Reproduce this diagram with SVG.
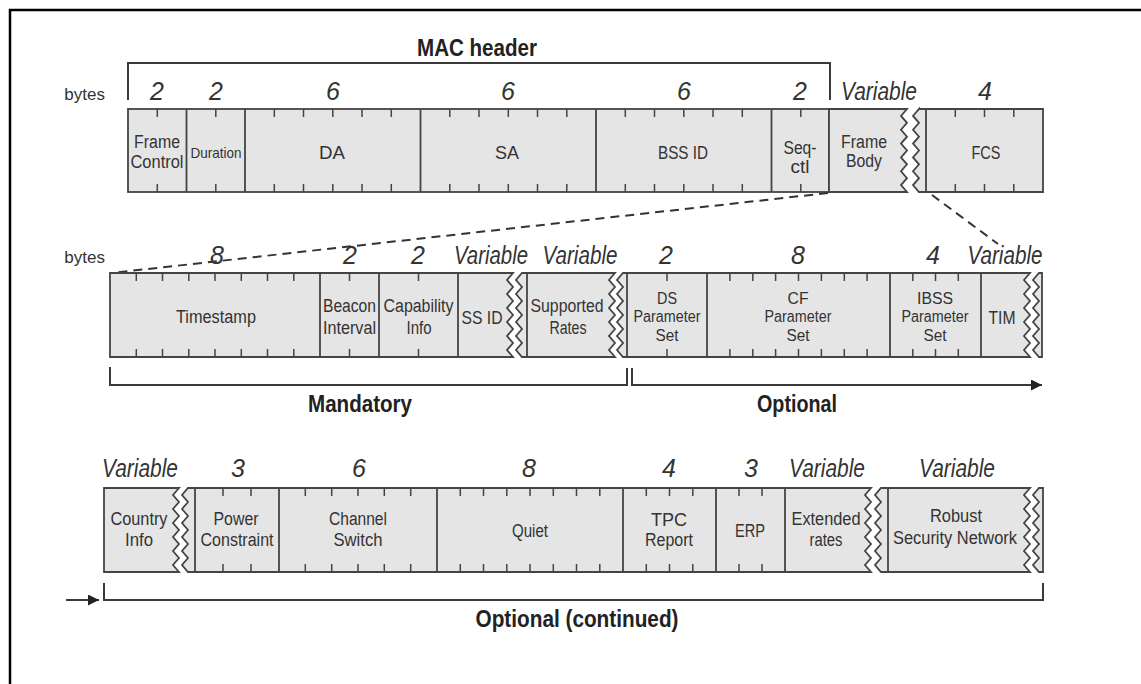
<svg xmlns="http://www.w3.org/2000/svg" width="1141" height="684" viewBox="0 0 1141 684">
<style>
.box{fill:#e5e5e5;stroke:#444;stroke-width:1.8;stroke-linejoin:miter}
.div{stroke:#444;stroke-width:1.8;fill:none}
.tick{stroke:#444;stroke-width:1.5;fill:none}
.br{stroke:#3a3a3a;stroke-width:2;fill:none}
.dash{stroke:#333;stroke-width:2;stroke-dasharray:9 6;fill:none}
text{font-family:"Liberation Sans",Arial,sans-serif;fill:#333;text-anchor:middle}
.lbl{font-size:18px}
.sm{font-size:16px}
.num{font-size:25px;font-style:italic}
.hdr{font-size:24px;font-weight:bold;fill:#222}
.by{font-size:17px;text-anchor:end}
</style>
<defs>
<marker id="ah" viewBox="0 0 10 10" refX="10" refY="5" markerWidth="15" markerHeight="11" markerUnits="userSpaceOnUse" orient="auto">
<path d="M0,0 L10,5 L0,10 Z" fill="#222"/>
</marker>
</defs>
<rect width="1141" height="684" fill="#fff"/>
<path d="M10,684 V10 H1141" stroke="#000" stroke-width="2.5" fill="none"/>

<g id="mac-header">
<path class="br" d="M128,100 V63 H830 V100"/>
<text class="hdr" x="477" y="56" font-size="26" textLength="120" lengthAdjust="spacingAndGlyphs">MAC header</text>
<text class="by" x="105" y="100">bytes</text>
</g>

<g id="row1">
<rect class="box" x="128" y="109" width="701" height="83"/>
<path class="box" d="M829,109 H907 l-6,6.917 6,6.917 -6,6.917 6,6.917 -6,6.917 6,6.917 -6,6.917 6,6.917 -6,6.917 6,6.917 -6,6.917 6,6.917 H829 Z"/>
<path class="box" d="M919,109 H1043 V192 H919 l-6,-6.917 6,-6.917 -6,-6.917 6,-6.917 -6,-6.917 6,-6.917 -6,-6.917 6,-6.917 -6,-6.917 6,-6.917 -6,-6.917 6,-6.917 Z"/>
<path class="div" d="M186.5,109 V192 M245,109 V192 M420.5,109 V192 M596,109 V192 M771.5,109 V192 M926,109 V192"/>
<path class="tick" d="M157.3,109v8M157.3,192v-8M215.8,109v8M215.8,192v-8M274.3,109v8M274.3,192v-8M303.5,109v8M303.5,192v-8M332.8,109v8M332.8,192v-8M362,109v8M362,192v-8M391.3,109v8M391.3,192v-8M449.8,109v8M449.8,192v-8M479,109v8M479,192v-8M508.3,109v8M508.3,192v-8M537.5,109v8M537.5,192v-8M566.8,109v8M566.8,192v-8M625.3,109v8M625.3,192v-8M654.5,109v8M654.5,192v-8M683.8,109v8M683.8,192v-8M713,109v8M713,192v-8M742.3,109v8M742.3,192v-8M800.8,109v8M800.8,192v-8M955.3,109v8M955.3,192v-8M984.5,109v8M984.5,192v-8M1013.8,109v8M1013.8,192v-8"/>
<g id="r1-frame-control"><text class="num" x="157" y="100">2</text><text class="lbl" x="157" y="148" textLength="46" lengthAdjust="spacingAndGlyphs">Frame</text><text class="lbl" x="157" y="168" textLength="53" lengthAdjust="spacingAndGlyphs">Control</text></g>
<g id="r1-duration"><text class="num" x="216" y="100">2</text><text x="216" y="158" font-size="15" textLength="51" lengthAdjust="spacingAndGlyphs">Duration</text></g>
<g id="r1-da"><text class="num" x="333" y="100">6</text><text class="lbl" x="332" y="159" textLength="26" lengthAdjust="spacingAndGlyphs">DA</text></g>
<g id="r1-sa"><text class="num" x="508" y="100">6</text><text class="lbl" x="507" y="159" textLength="24" lengthAdjust="spacingAndGlyphs">SA</text></g>
<g id="r1-bssid"><text class="num" x="684" y="100">6</text><text class="lbl" x="683" y="159" textLength="50" lengthAdjust="spacingAndGlyphs">BSS ID</text></g>
<g id="r1-seqctl"><text class="num" x="800" y="100">2</text><text class="lbl" x="800" y="154" textLength="33" lengthAdjust="spacingAndGlyphs">Seq-</text><text class="lbl" x="800" y="173" textLength="19" lengthAdjust="spacingAndGlyphs">ctl</text></g>
<g id="r1-framebody"><text class="num" x="879" y="100" textLength="76" lengthAdjust="spacingAndGlyphs">Variable</text><text class="lbl" x="864" y="148" textLength="46" lengthAdjust="spacingAndGlyphs">Frame</text><text class="lbl" x="864" y="167" textLength="36" lengthAdjust="spacingAndGlyphs">Body</text></g>
<g id="r1-fcs"><text class="num" x="985" y="100">4</text><text class="lbl" x="986" y="159" textLength="29" lengthAdjust="spacingAndGlyphs">FCS</text></g>
</g>

<g id="connectors">
<path class="dash" d="M828,193 L112,273"/>
<path class="dash" d="M932,195 L998,244"/>
<path class="br" d="M110,367 V385 H627 V368"/>
<path class="br" d="M632,368 V385 H1042" marker-end="url(#ah)"/>
<path class="br" d="M104,583 V600 H1043 V583"/>
<path class="br" d="M66,600 H99" marker-end="url(#ah)"/>
</g>

<g id="row2">
<text class="by" x="105" y="263">bytes</text>
<path class="box" d="M110,273 H513 l-6,7 6,7 -6,7 6,7 -6,7 6,7 -6,7 6,7 -6,7 6,7 -6,7 6,7 H110 Z"/>
<path class="box" d="M522,273 H615 l-6,7 6,7 -6,7 6,7 -6,7 6,7 -6,7 6,7 -6,7 6,7 -6,7 6,7 H522 l-6,-7 6,-7 -6,-7 6,-7 -6,-7 6,-7 -6,-7 6,-7 -6,-7 6,-7 -6,-7 6,-7 Z"/>
<path class="box" d="M623,273 H1030 l-6,7 6,7 -6,7 6,7 -6,7 6,7 -6,7 6,7 -6,7 6,7 -6,7 6,7 H623 l-6,-7 6,-7 -6,-7 6,-7 -6,-7 6,-7 -6,-7 6,-7 -6,-7 6,-7 -6,-7 6,-7 Z"/>
<path class="box" d="M1039,273 H1042 V357 H1039 l-6,-7 6,-7 -6,-7 6,-7 -6,-7 6,-7 -6,-7 6,-7 -6,-7 6,-7 -6,-7 6,-7 Z"/>
<path class="div" d="M320,273 V357 M379,273 V357 M458,273 V357 M527,273 V357 M627,273 V357 M707,273 V357 M890,273 V357 M981,273 V357"/>
<path class="tick" d="M136.3,273v8M136.3,357v-8M162.5,273v8M162.5,357v-8M188.8,273v8M188.8,357v-8M215,273v8M215,357v-8M241.3,273v8M241.3,357v-8M267.5,273v8M267.5,357v-8M293.8,273v8M293.8,357v-8M349.5,273v8M349.5,357v-8M418.5,273v8M418.5,357v-8M667,273v8M667,357v-8M729.9,273v8M729.9,357v-8M752.8,273v8M752.8,357v-8M775.6,273v8M775.6,357v-8M798.5,273v8M798.5,357v-8M821.4,273v8M821.4,357v-8M844.3,273v8M844.3,357v-8M867.1,273v8M867.1,357v-8M912.8,273v8M912.8,357v-8M935.5,273v8M935.5,357v-8M958.3,273v8M958.3,357v-8"/>
<g id="r2-timestamp"><text class="num" x="217" y="264">8</text><text class="lbl" x="216" y="323" textLength="80" lengthAdjust="spacingAndGlyphs">Timestamp</text></g>
<g id="r2-beacon"><text class="num" x="350" y="264">2</text><text class="lbl" x="349.5" y="312" textLength="53" lengthAdjust="spacingAndGlyphs">Beacon</text><text class="lbl" x="349.5" y="334" textLength="53" lengthAdjust="spacingAndGlyphs">Interval</text></g>
<g id="r2-capability"><text class="num" x="418" y="264">2</text><text class="lbl" x="418.5" y="312" textLength="70" lengthAdjust="spacingAndGlyphs">Capability</text><text class="lbl" x="419" y="334" textLength="25" lengthAdjust="spacingAndGlyphs">Info</text></g>
<g id="r2-ssid"><text class="num" x="491" y="264" textLength="74" lengthAdjust="spacingAndGlyphs">Variable</text><text class="lbl" x="482" y="324" textLength="41" lengthAdjust="spacingAndGlyphs">SS ID</text></g>
<g id="r2-rates"><text class="num" x="580" y="264" textLength="75" lengthAdjust="spacingAndGlyphs">Variable</text><text class="lbl" x="567" y="312" textLength="73" lengthAdjust="spacingAndGlyphs">Supported</text><text class="lbl" x="568" y="334" textLength="37" lengthAdjust="spacingAndGlyphs">Rates</text></g>
<g id="r2-ds"><text class="num" x="666" y="264">2</text><text class="sm" x="667" y="303.5" textLength="20" lengthAdjust="spacingAndGlyphs">DS</text><text class="sm" x="667" y="322" textLength="67" lengthAdjust="spacingAndGlyphs">Parameter</text><text class="sm" x="667" y="340.5" textLength="23" lengthAdjust="spacingAndGlyphs">Set</text></g>
<g id="r2-cf"><text class="num" x="798" y="264">8</text><text class="sm" x="798" y="303.5" textLength="21" lengthAdjust="spacingAndGlyphs">CF</text><text class="sm" x="798" y="322" textLength="67" lengthAdjust="spacingAndGlyphs">Parameter</text><text class="sm" x="798" y="340.5" textLength="23" lengthAdjust="spacingAndGlyphs">Set</text></g>
<g id="r2-ibss"><text class="num" x="933" y="264">4</text><text class="sm" x="935" y="303.5" textLength="36" lengthAdjust="spacingAndGlyphs">IBSS</text><text class="sm" x="935" y="322" textLength="67" lengthAdjust="spacingAndGlyphs">Parameter</text><text class="sm" x="935" y="340.5" textLength="23" lengthAdjust="spacingAndGlyphs">Set</text></g>
<g id="r2-tim"><text class="num" x="1005" y="264" textLength="75" lengthAdjust="spacingAndGlyphs">Variable</text><text class="lbl" x="1002" y="324" textLength="27" lengthAdjust="spacingAndGlyphs">TIM</text></g>
<text class="hdr" x="360" y="412" textLength="104" lengthAdjust="spacingAndGlyphs">Mandatory</text>
<text class="hdr" x="797" y="412" textLength="80" lengthAdjust="spacingAndGlyphs">Optional</text>
</g>

<g id="row3">
<path class="box" d="M104,488 H179 l-6,7 6,7 -6,7 6,7 -6,7 6,7 -6,7 6,7 -6,7 6,7 -6,7 6,7 H104 Z"/>
<path class="box" d="M188,488 H871 l-6,7 6,7 -6,7 6,7 -6,7 6,7 -6,7 6,7 -6,7 6,7 -6,7 6,7 H188 l-6,-7 6,-7 -6,-7 6,-7 -6,-7 6,-7 -6,-7 6,-7 -6,-7 6,-7 -6,-7 6,-7 Z"/>
<path class="box" d="M881,488 H1030 l-6,7 6,7 -6,7 6,7 -6,7 6,7 -6,7 6,7 -6,7 6,7 -6,7 6,7 H881 l-6,-7 6,-7 -6,-7 6,-7 -6,-7 6,-7 -6,-7 6,-7 -6,-7 6,-7 -6,-7 6,-7 Z"/>
<path class="box" d="M1039,488 H1043 V572 H1039 l-6,-7 6,-7 -6,-7 6,-7 -6,-7 6,-7 -6,-7 6,-7 -6,-7 6,-7 -6,-7 6,-7 Z"/>
<path class="div" d="M195,488 V572 M279,488 V572 M437,488 V572 M623,488 V572 M716,488 V572 M785,488 V572 M888,488 V572"/>
<path class="tick" d="M223,488v8M223,572v-8M251,488v8M251,572v-8M305.3,488v8M305.3,572v-8M331.7,488v8M331.7,572v-8M358,488v8M358,572v-8M384.3,488v8M384.3,572v-8M410.7,488v8M410.7,572v-8M460.3,488v8M460.3,572v-8M483.5,488v8M483.5,572v-8M506.8,488v8M506.8,572v-8M530,488v8M530,572v-8M553.3,488v8M553.3,572v-8M576.5,488v8M576.5,572v-8M599.8,488v8M599.8,572v-8M646.3,488v8M646.3,572v-8M669.5,488v8M669.5,572v-8M692.8,488v8M692.8,572v-8M739,488v8M739,572v-8M762,488v8M762,572v-8"/>
<g id="r3-country"><text class="num" x="140" y="477" textLength="76" lengthAdjust="spacingAndGlyphs">Variable</text><text class="lbl" x="139" y="525" textLength="57" lengthAdjust="spacingAndGlyphs">Country</text><text class="lbl" x="139" y="546" textLength="28" lengthAdjust="spacingAndGlyphs">Info</text></g>
<g id="r3-power"><text class="num" x="238" y="477">3</text><text class="lbl" x="236" y="525" textLength="45" lengthAdjust="spacingAndGlyphs">Power</text><text class="lbl" x="237" y="546" textLength="73" lengthAdjust="spacingAndGlyphs">Constraint</text></g>
<g id="r3-channel"><text class="num" x="359" y="477">6</text><text class="lbl" x="358" y="525" textLength="58" lengthAdjust="spacingAndGlyphs">Channel</text><text class="lbl" x="358" y="546" textLength="49" lengthAdjust="spacingAndGlyphs">Switch</text></g>
<g id="r3-quiet"><text class="num" x="529" y="477">8</text><text class="lbl" x="530" y="537" textLength="36" lengthAdjust="spacingAndGlyphs">Quiet</text></g>
<g id="r3-tpc"><text class="num" x="669" y="477">4</text><text class="lbl" x="669" y="526" textLength="36" lengthAdjust="spacingAndGlyphs">TPC</text><text class="lbl" x="669" y="546" textLength="48" lengthAdjust="spacingAndGlyphs">Report</text></g>
<g id="r3-erp"><text class="num" x="751" y="477">3</text><text class="lbl" x="750" y="537" textLength="30" lengthAdjust="spacingAndGlyphs">ERP</text></g>
<g id="r3-extended"><text class="num" x="827" y="477" textLength="76" lengthAdjust="spacingAndGlyphs">Variable</text><text class="lbl" x="826" y="525" textLength="69" lengthAdjust="spacingAndGlyphs">Extended</text><text class="lbl" x="826" y="546" textLength="33" lengthAdjust="spacingAndGlyphs">rates</text></g>
<g id="r3-rsn"><text class="num" x="957" y="477" textLength="76" lengthAdjust="spacingAndGlyphs">Variable</text><text class="lbl" x="956" y="522" textLength="52" lengthAdjust="spacingAndGlyphs">Robust</text><text class="lbl" x="955" y="544" textLength="124" lengthAdjust="spacingAndGlyphs">Security Network</text></g>
<text class="hdr" x="577" y="627" textLength="203" lengthAdjust="spacingAndGlyphs">Optional (continued)</text>
</g>
</svg>
